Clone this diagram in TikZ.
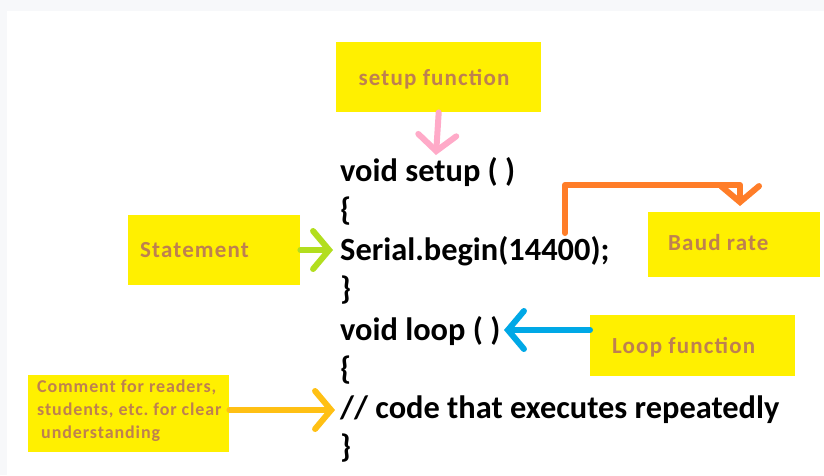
\documentclass[tikz,border=0pt]{standalone}
\usepackage{fontspec}
\setmainfont{Carlito}
\usetikzlibrary{arrows.meta}
\definecolor{boxyellow}{RGB}{255,240,0}
\definecolor{labelbrown}{RGB}{190,128,80}
\definecolor{pagegray}{RGB}{247,248,250}
\definecolor{pinkarrow}{RGB}{255,170,200}
\definecolor{greenarrow}{RGB}{178,222,30}
\definecolor{orangearrow}{RGB}{255,125,40}
\definecolor{bluearrow}{RGB}{0,168,230}
\definecolor{goldarrow}{RGB}{255,192,20}
\frenchspacing
\tikzset{
  labelbox/.style={fill=boxyellow, draw=none, anchor=north west, inner sep=0pt},
  labeltext/.style={anchor=west, inner sep=0pt, text=labelbrown,
    font=\bfseries\fontsize{23}{26}\selectfont\addfontfeature{LetterSpace=5}},
  codeline/.style={anchor=base west, inner sep=0pt, font=\bfseries\fontsize{32.4}{36}\selectfont, text=black},
  pointer/.style={line width=6pt, line cap=round, line join=round,
    -{Straight Barb[length=16pt, width=38pt, line cap=round]}}
}
\begin{document}
\begin{tikzpicture}[x=1pt, y=-1pt]
  \useasboundingbox (0,0) rectangle (824,475);
  % page background
  \fill[pagegray] (0,0) rectangle (824,475);
  \fill[white] (7,11) rectangle (824,475);

  % code lines
  \node[codeline] (l1) at (340,181) {void setup ( )};
  \node[codeline] (l2) at (340,220) {\{};
  \node[codeline] (l3) at (340,260) {Serial.begin(14400);};
  \node[codeline] (l4) at (340,299) {\}};
  \node[codeline] (l5) at (340,340) {void loop ( )};
  \node[codeline] (l6) at (340,379) {\{};
  \node[codeline] (l7) at (340,418) {// code that executes repeatedly};
  \node[codeline] (l8) at (340,457) {\}};

  % yellow label boxes
  \node[labelbox, minimum width=205pt, minimum height=70pt] (setupbox) at (336,42) {};
  \node[labelbox, minimum width=172pt, minimum height=70pt] (stmtbox) at (128,215) {};
  \node[labelbox, minimum width=172pt, minimum height=65pt] (baudbox) at (648,212) {};
  \node[labelbox, minimum width=205pt, minimum height=61pt] (loopbox) at (590,315) {};
  \node[labelbox, minimum width=201pt, minimum height=77pt] (combox) at (28,375) {};

  % label texts
  \node[labeltext, anchor=center] (setuptext) at (434,79) {setup function};
  \node[labeltext] (stmttext) at (140,250) {Statement};
  \node[labeltext] (baudtext) at (668,243) {Baud rate};
  \node[labeltext] (looptext) at (612,347) {Loop function};
  \node[labeltext, anchor=north west, align=left,
    font=\bfseries\fontsize{18}{23}\selectfont\addfontfeature{LetterSpace=5}]
    (comtext) at (37,380)
    {Comment for readers,\\students, etc. for clear\\\hspace*{4pt}understanding};

  % pointers
  \coordinate (setupTip) at (436,155);
  \draw[pointer, pinkarrow] (setupbox.south) -- (setupTip);

  \coordinate (stmtTip) at (333,250);
  \draw[pointer, greenarrow] (stmtbox.east |- stmtTip) -- (stmtTip);

  \coordinate (baudStart) at (565,233);
  \coordinate (baudTip) at (740,206);
  \draw[pointer, orangearrow] (baudStart) -- (565,185) -- (740,185) -- (baudTip);

  \coordinate (loopTip) at (504,330);
  \draw[pointer, bluearrow] (loopbox.west |- loopTip) -- (loopTip);

  \coordinate (comTip) at (335,410);
  \draw[pointer, goldarrow] (combox.east |- comTip) -- (comTip);
\end{tikzpicture}
\end{document}
